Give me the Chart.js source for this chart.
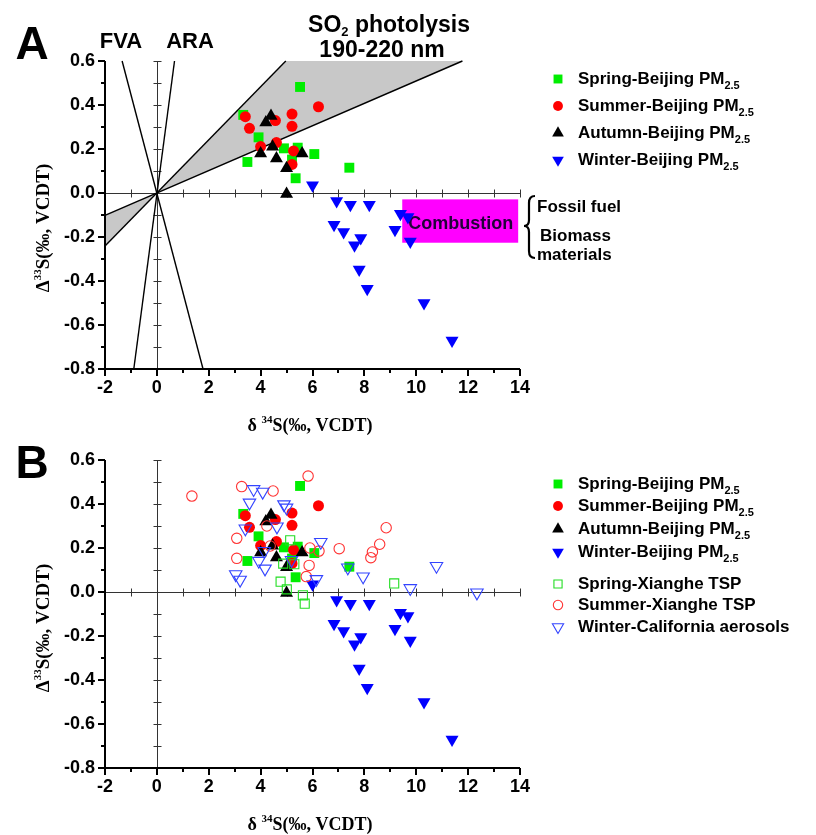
<!DOCTYPE html>
<html>
<head>
<meta charset="utf-8">
<script src="https://cdn.jsdelivr.net/npm/chart.js@4.4.1/dist/chart.umd.min.js"></script>
<style>
    html, body { margin: 0; padding: 0; background: #fff; }
    #wrap { position: relative; width: 816px; height: 835px; overflow: hidden; }
    canvas { position: absolute; left: 0; }
    #chartA { top: 0; }
    #chartB { top: 440px; }
</style>
</head>
<body>
<div id="wrap">
    <canvas id="chartA" width="816" height="440"></canvas>
    <canvas id="chartB" width="816" height="395"></canvas>
</div>
<script>
// --- AXES ---
const X_MIN = -2, X_MAX = 14;
const Y_MIN = -0.8, Y_MAX = 0.6;
const X_TICKS = [-2, 0, 2, 4, 6, 8, 10, 12, 14];
const Y_TICKS = [-0.8, -0.6, -0.4, -0.2, 0.0, 0.2, 0.4, 0.6];

// --- DATA (delta34S, Delta33S) ---
const SPRING_BJ_X = [5.52, 3.33, 3.92, 3.49, 4.90, 5.43, 6.07, 7.42, 5.35, 5.21];
const SPRING_BJ_Y = [0.482, 0.355, 0.253, 0.141, 0.203, 0.206, 0.177, 0.115, 0.067, 0.152];

const SUMMER_BJ_X = [3.41, 3.57, 4.57, 5.21, 5.21, 6.23, 4.00, 4.61, 5.27, 5.21];
const SUMMER_BJ_Y = [0.347, 0.294, 0.329, 0.359, 0.303, 0.392, 0.211, 0.229, 0.191, 0.130];

const AUTUMN_BJ_X = [4.20, 4.40, 4.00, 4.46, 4.61, 5.00, 5.60, 5.00];
const AUTUMN_BJ_Y = [0.320, 0.350, 0.180, 0.210, 0.157, 0.112, 0.180, -0.005];

const WINTER_BJ_X = [6.00, 6.93, 7.46, 8.19, 9.39, 9.68, 6.83, 7.20, 7.62, 7.86, 9.18, 9.77, 7.80, 8.11, 10.30, 11.38];
const WINTER_BJ_Y = [0.035, -0.036, -0.053, -0.053, -0.094, -0.109, -0.144, -0.177, -0.238, -0.205, -0.167, -0.220, -0.348, -0.435, -0.500, -0.670];

const SPRING_XH_X = [5.14, 4.87, 5.30, 4.77, 5.01, 5.63, 5.70, 9.15];
const SPRING_XH_Y = [0.235, 0.129, 0.126, 0.047, 0.012, -0.015, -0.053, 0.039];

const SUMMER_XH_X = [1.35, 3.27, 4.48, 5.83, 3.08, 3.08, 4.24, 4.37, 5.90, 6.25, 5.87, 5.76, 7.03, 8.25, 8.31, 8.59, 8.84];
const SUMMER_XH_Y = [0.436, 0.479, 0.459, 0.527, 0.244, 0.153, 0.300, 0.209, 0.200, 0.186, 0.121, 0.070, 0.197, 0.156, 0.182, 0.217, 0.292];

const WINTER_CA_X = [3.73, 4.08, 3.57, 4.90, 5.00, 3.41, 4.63, 6.32, 4.14, 3.93, 4.17, 5.19, 3.04, 3.21, 6.15, 7.36, 7.95, 9.77, 10.78, 12.34];
const WINTER_CA_Y = [0.467, 0.455, 0.406, 0.398, 0.383, 0.288, 0.297, 0.227, 0.186, 0.141, 0.106, 0.145, 0.080, 0.055, 0.058, 0.111, 0.070, 0.017, 0.118, -0.003];

// --- REFERENCE LINES & REGIONS (panel A) ---
const FVA_X = [-1.34, 1.78];
const FVA_Y = [0.6, -0.8];
const ARA_X = [0.68, -0.89];
const ARA_Y = [0.6, -0.8];
const SO2_STEEP_X = [-2, 4.97];
const SO2_STEEP_Y = [-0.241, 0.6];
const SO2_SHALLOW_X = [-2, 11.78];
const SO2_SHALLOW_Y = [-0.102, 0.6];
const COMBUSTION_X = [9.46, 13.93];
const COMBUSTION_Y = [-0.029, -0.226];

// --- STYLES ---
const STYLE_SPRING_BJ = { pointStyle: 'rect', radius: 7.0, rotation: 0, color: '#00ee00', filled: true };
const STYLE_SUMMER_BJ = { pointStyle: 'circle', radius: 5.5, rotation: 0, color: '#ff0000', filled: true };
const STYLE_AUTUMN_BJ = { pointStyle: 'triangle', radius: 7.5, rotation: 0, color: '#000000', filled: true };
const STYLE_WINTER_BJ = { pointStyle: 'triangle', radius: 7.5, rotation: 180, color: '#0000ff', filled: true };
const STYLE_SPRING_XH = { pointStyle: 'rect', radius: 6.4, rotation: 0, color: '#22dd22', filled: false };
const STYLE_SUMMER_XH = { pointStyle: 'circle', radius: 5.2, rotation: 0, color: '#ff3333', filled: false };
const STYLE_WINTER_CA = { pointStyle: 'triangle', radius: 7.2, rotation: 180, color: '#3344ff', filled: false };

const SANS = '"Liberation Sans", Arial, sans-serif';
const SERIF = '"Liberation Serif", "Times New Roman", serif';

function toPoints(xs, ys) {
    return xs.map((x, i) => ({ x: x, y: ys[i] }));
}

function markerSet(label, xs, ys, style, order) {
    return {
        label: label,
        data: toPoints(xs, ys),
        order: order,
        pointStyle: style.pointStyle,
        pointRadius: style.radius,
        pointRotation: style.rotation,
        pointBackgroundColor: style.filled ? style.color : 'rgba(0,0,0,0)',
        pointBorderColor: style.color,
        pointBorderWidth: style.filled ? 0 : 1.1,
        clip: false,
    };
}

function lineSet(xs, ys) {
    return {
        label: '',
        data: toPoints(xs, ys),
        order: 20,
        showLine: true,
        borderColor: '#000',
        borderWidth: 1.4,
        pointRadius: 0,
        tension: 0,
        clip: false,
    };
}

// --- DRAW HELPERS ---
function drawMarker(ctx, s, cx, cy, scale = 1) {
    const r = s.radius * scale;
    ctx.beginPath();
    if (s.pointStyle === 'rect') {
        const h = r * Math.SQRT1_2;
        ctx.rect(cx - h, cy - h, 2 * h, 2 * h);
    } else if (s.pointStyle === 'circle') {
        ctx.arc(cx, cy, r, 0, Math.PI * 2);
    } else {
        let rad = (s.rotation * Math.PI) / 180;
        for (let k = 0; k < 3; k++) {
            const px = cx + Math.sin(rad) * r;
            const py = cy - Math.cos(rad) * r;
            if (k === 0) ctx.moveTo(px, py);
            else ctx.lineTo(px, py);
            rad += (2 * Math.PI) / 3;
        }
        ctx.closePath();
    }
    if (s.filled) {
        ctx.fillStyle = s.color;
        ctx.fill();
    } else {
        ctx.strokeStyle = s.color;
        ctx.lineWidth = 1.1;
        ctx.stroke();
    }
}

// parts: [{ t, font, dy }], drawn left to right as one run
function drawRich(ctx, parts, x, y, align) {
    let total = 0;
    parts.forEach((p) => {
        ctx.font = p.font;
        p.w = ctx.measureText(p.t).width;
        total += p.w;
    });
    let cx = align === 'center' ? x - total / 2 : x;
    ctx.textAlign = 'left';
    ctx.textBaseline = 'middle';
    parts.forEach((p) => {
        ctx.font = p.font;
        ctx.fillText(p.t, cx, y + (p.dy || 0));
        cx += p.w;
    });
}

function drawAxes(chart) {
    const { ctx, chartArea: a, scales: { x, y } } = chart;
    const x0 = Math.round(x.getPixelForValue(0)) + 0.5;
    const y0 = Math.round(y.getPixelForValue(0)) + 0.5;
    ctx.save();

    // zero-crossing axes
    ctx.strokeStyle = '#333';
    ctx.lineWidth = 1;
    ctx.beginPath();
    ctx.moveTo(x0, a.top);
    ctx.lineTo(x0, a.bottom);
    ctx.moveTo(a.left, y0);
    ctx.lineTo(a.right, y0);
    for (let i = Math.round(Y_MIN * 10); i <= Math.round(Y_MAX * 10); i++) {
        const py = Math.round(y.getPixelForValue(i / 10)) + 0.5;
        ctx.moveTo(x0 - 4, py);
        ctx.lineTo(x0 + 4, py);
    }
    for (let i = X_MIN; i <= X_MAX; i++) {
        const px = Math.round(x.getPixelForValue(i)) + 0.5;
        ctx.moveTo(px, y0 - 4);
        ctx.lineTo(px, y0 + 4);
    }
    ctx.stroke();

    // outer left & bottom axes
    ctx.strokeStyle = '#000';
    ctx.lineWidth = 2;
    const L = Math.round(a.left);
    const B = Math.round(a.bottom);
    ctx.beginPath();
    ctx.moveTo(L, a.top);
    ctx.lineTo(L, B);
    ctx.lineTo(a.right, B);
    for (let i = Math.round(Y_MIN * 10); i <= Math.round(Y_MAX * 10); i++) {
        const py = Math.round(y.getPixelForValue(i / 10));
        ctx.moveTo(L, py);
        ctx.lineTo(L - (i % 2 === 0 ? 7 : 4), py);
    }
    for (let i = X_MIN; i <= X_MAX; i++) {
        const px = Math.round(x.getPixelForValue(i));
        ctx.moveTo(px, B);
        ctx.lineTo(px, B + (i % 2 === 0 ? 7 : 4));
    }
    ctx.stroke();

    // tick labels
    ctx.fillStyle = '#000';
    ctx.font = 'bold 18px ' + SANS;
    ctx.textAlign = 'right';
    ctx.textBaseline = 'middle';
    Y_TICKS.forEach((v) => {
        ctx.fillText(v.toFixed(1), L - 10, y.getPixelForValue(v));
    });
    ctx.textAlign = 'center';
    ctx.textBaseline = 'top';
    X_TICKS.forEach((v) => {
        ctx.fillText(String(v), x.getPixelForValue(v), B + 10);
    });
    ctx.restore();
}

function drawAxisTitles(ctx, xTitleY, yTitleCy) {
    ctx.save();
    ctx.fillStyle = '#000';
    const big = 'bold 18px ' + SERIF;
    const sup = 'bold 11px ' + SERIF;
    drawRich(ctx, [
        { t: 'δ ', font: big },
        { t: '34', font: sup, dy: -6 },
        { t: 'S(‰, VCDT)', font: big },
    ], 310, xTitleY, 'center');
    ctx.translate(44, yTitleCy);
    ctx.rotate(-Math.PI / 2);
    drawRich(ctx, [
        { t: 'Δ', font: 'bold 19px ' + SERIF },
        { t: '33', font: sup, dy: -6 },
        { t: 'S(‰, VCDT)', font: 'bold 19px ' + SERIF },
    ], 0, 0, 'center');
    ctx.restore();
}

function drawLegend(ctx, entries, markerX, textX, rows) {
    ctx.save();
    ctx.fillStyle = '#000';
    entries.forEach((e, i) => {
        drawMarker(ctx, e.style, markerX, rows[i], 0.9);
        ctx.fillStyle = '#000';
        const parts = [{ t: e.label, font: 'bold 17px ' + SANS }];
        if (e.sub) parts.push({ t: e.sub, font: 'bold 11px ' + SANS, dy: 7 });
        drawRich(ctx, parts, textX, rows[i], 'left');
    });
    ctx.restore();
}

const LEGEND_BJ = [
    { label: 'Spring-Beijing PM', sub: '2.5', style: STYLE_SPRING_BJ },
    { label: 'Summer-Beijing PM', sub: '2.5', style: STYLE_SUMMER_BJ },
    { label: 'Autumn-Beijing PM', sub: '2.5', style: STYLE_AUTUMN_BJ },
    { label: 'Winter-Beijing PM', sub: '2.5', style: STYLE_WINTER_BJ },
];
const LEGEND_ALL = LEGEND_BJ.concat([
    { label: 'Spring-Xianghe TSP', style: STYLE_SPRING_XH },
    { label: 'Summer-Xianghe TSP', style: STYLE_SUMMER_XH },
    { label: 'Winter-California aerosols', style: STYLE_WINTER_CA },
]);

// --- PANEL A EXTRAS ---
const panelAPlugin = {
    id: 'panelA',
    beforeDatasetsDraw(chart) {
        const { ctx, scales: { x, y } } = chart;
        const px = (v) => x.getPixelForValue(v);
        const py = (v) => y.getPixelForValue(v);
        ctx.save();
        // SO2 photolysis wedge
        ctx.fillStyle = '#c8c8c8';
        ctx.beginPath();
        ctx.moveTo(px(0), py(0));
        ctx.lineTo(px(SO2_STEEP_X[1]), py(SO2_STEEP_Y[1]));
        ctx.lineTo(px(SO2_SHALLOW_X[1]), py(SO2_SHALLOW_Y[1]));
        ctx.closePath();
        ctx.moveTo(px(0), py(0));
        ctx.lineTo(px(SO2_SHALLOW_X[0]), py(SO2_SHALLOW_Y[0]));
        ctx.lineTo(px(SO2_STEEP_X[0]), py(SO2_STEEP_Y[0]));
        ctx.closePath();
        ctx.fill();
        ctx.restore();
        drawAxes(chart);
        ctx.save();
        // combustion box
        ctx.fillStyle = '#ff00ff';
        const bx = px(COMBUSTION_X[0]);
        const by = py(COMBUSTION_Y[0]);
        ctx.fillRect(bx, by, px(COMBUSTION_X[1]) - bx, py(COMBUSTION_Y[1]) - by);
        ctx.fillStyle = '#200038';
        ctx.font = 'bold 18px ' + SANS;
        ctx.textAlign = 'center';
        ctx.textBaseline = 'middle';
        ctx.fillText('Combustion', px(11.72), py(-0.142));
        ctx.restore();
    },
    afterDraw(chart) {
        const ctx = chart.ctx;
        ctx.save();
        ctx.fillStyle = '#000';
        ctx.textAlign = 'center';
        ctx.textBaseline = 'middle';
        ctx.font = 'bold 46px ' + SANS;
        ctx.fillText('A', 32, 46);
        ctx.font = 'bold 22px ' + SANS;
        ctx.fillText('FVA', 121, 42);
        ctx.fillText('ARA', 190, 42);
        drawRich(ctx, [
            { t: 'SO', font: 'bold 23px ' + SANS },
            { t: '2', font: 'bold 13px ' + SANS, dy: 6 },
            { t: ' photolysis', font: 'bold 23px ' + SANS },
        ], 389, 26, 'center');
        ctx.font = 'bold 23px ' + SANS;
        ctx.textAlign = 'center';
        ctx.fillText('190-220 nm', 382, 51);

        // brace + source labels
        ctx.strokeStyle = '#000';
        ctx.lineWidth = 2.2;
        const bx = 529, top = 196, mid = 226, bot = 258;
        ctx.beginPath();
        ctx.moveTo(bx + 6, top);
        ctx.quadraticCurveTo(bx, top, bx, top + 7);
        ctx.lineTo(bx, mid - 6);
        ctx.quadraticCurveTo(bx, mid, bx - 5, mid);
        ctx.quadraticCurveTo(bx, mid, bx, mid + 6);
        ctx.lineTo(bx, bot - 7);
        ctx.quadraticCurveTo(bx, bot, bx + 6, bot);
        ctx.stroke();
        ctx.font = 'bold 17px ' + SANS;
        ctx.textAlign = 'left';
        ctx.fillText('Fossil fuel', 537, 207);
        ctx.fillText('Biomass', 540, 236);
        ctx.fillText('materials', 537, 255);

        drawLegend(ctx, LEGEND_BJ, 558, 578, [79, 106, 133, 160]);
        drawAxisTitles(ctx, 426, 228);
        ctx.restore();
    },
};

// --- PANEL B EXTRAS ---
const panelBPlugin = {
    id: 'panelB',
    beforeDatasetsDraw(chart) {
        drawAxes(chart);
    },
    afterDraw(chart) {
        const ctx = chart.ctx;
        ctx.save();
        ctx.fillStyle = '#000';
        ctx.textAlign = 'center';
        ctx.textBaseline = 'middle';
        ctx.font = 'bold 46px ' + SANS;
        ctx.fillText('B', 32, 25);
        drawLegend(ctx, LEGEND_ALL, 558, 578, [44, 66, 89, 112, 144, 165, 187]);
        drawAxisTitles(ctx, 385, 188);
        ctx.restore();
    },
};

function buildChart(canvasId, datasets, padding, plugin) {
    const ctx = document.getElementById(canvasId).getContext('2d');
    return new Chart(ctx, {
        type: 'scatter',
        data: { datasets },
        options: {
            responsive: false,
            animation: false,
            devicePixelRatio: 1,
            events: [],
            layout: { padding },
            plugins: { legend: { display: false }, tooltip: { enabled: false } },
            scales: {
                x: { type: 'linear', min: X_MIN, max: X_MAX, display: false },
                y: { type: 'linear', min: Y_MIN, max: Y_MAX, display: false },
            },
        },
        plugins: [plugin],
    });
}

const beijingSets = () => [
    markerSet('Spring-Beijing PM2.5', SPRING_BJ_X, SPRING_BJ_Y, STYLE_SPRING_BJ, 4),
    markerSet('Summer-Beijing PM2.5', SUMMER_BJ_X, SUMMER_BJ_Y, STYLE_SUMMER_BJ, 3),
    markerSet('Autumn-Beijing PM2.5', AUTUMN_BJ_X, AUTUMN_BJ_Y, STYLE_AUTUMN_BJ, 2),
    markerSet('Winter-Beijing PM2.5', WINTER_BJ_X, WINTER_BJ_Y, STYLE_WINTER_BJ, 1),
];

buildChart('chartA', [
    lineSet(FVA_X, FVA_Y),
    lineSet(ARA_X, ARA_Y),
    lineSet(SO2_STEEP_X, SO2_STEEP_Y),
    lineSet(SO2_SHALLOW_X, SO2_SHALLOW_Y),
    ...beijingSets(),
], { left: 105, right: 296, top: 61, bottom: 71 }, panelAPlugin);

buildChart('chartB', [
    ...beijingSets(),
    markerSet('Spring-Xianghe TSP', SPRING_XH_X, SPRING_XH_Y, STYLE_SPRING_XH, 0),
    markerSet('Summer-Xianghe TSP', SUMMER_XH_X, SUMMER_XH_Y, STYLE_SUMMER_XH, -1),
    markerSet('Winter-California aerosols', WINTER_CA_X, WINTER_CA_Y, STYLE_WINTER_CA, -2),
], { left: 105, right: 296, top: 20, bottom: 67 }, panelBPlugin);
</script>
</body>
</html>
